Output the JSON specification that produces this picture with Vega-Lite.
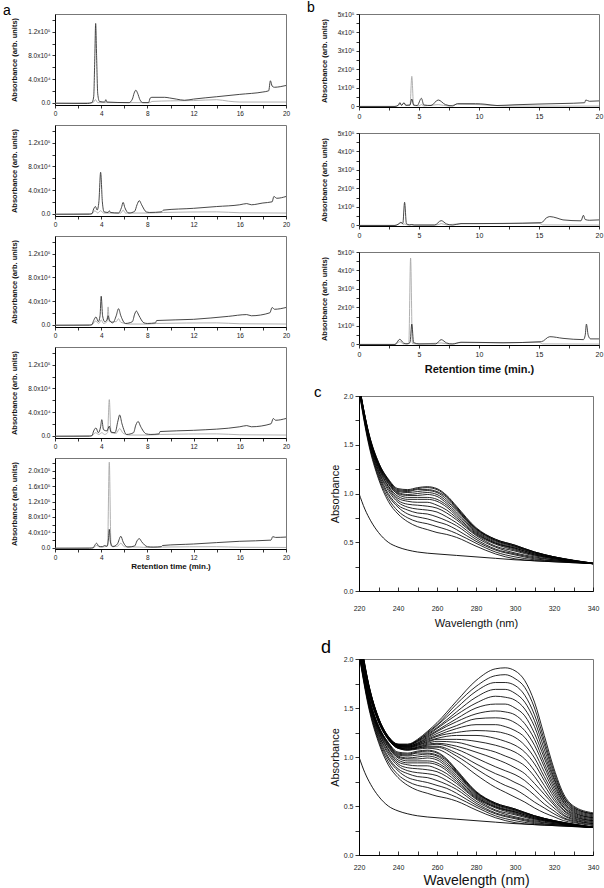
{
"$schema": "https://vega.github.io/schema/vega-lite/v6.json",
"padding": {"left": 2, "top": 0, "right": 0, "bottom": 0},
"spacing": 15,
"config": {
 "font": "Liberation Sans",
 "view": {"stroke": "#777", "strokeWidth": 1},
 "axis": {"grid": false, "domainColor": "#000", "tickColor": "#000", "labelColor": "#222", "titleColor": "#111", "labelFlush": false, "labelOverlap": false, "tickSize": 3, "labelPadding": 2, "titlePadding": 3, "tickWidth": 0.8},
 "title": {"fontWeight": "normal", "font": "Liberation Sans", "anchor": "start", "frame": "group", "color": "#000"},
 "line": {"strokeWidth": 0.9, "interpolate": "monotone"}
},
"datasets": {
 "a1": [
  {"s":"g","x":0,"y":-1},{"s":"g","x":3.3,"y":0},{"s":"g","x":3.5,"y":5},{"s":"g","x":3.7,"y":0},{"s":"g","x":8.2,"y":0},{"s":"g","x":8.4,"y":2},{"s":"g","x":10,"y":3},{"s":"g","x":12,"y":3.5},{"s":"g","x":14,"y":5},{"s":"g","x":15,"y":2.5},{"s":"g","x":16,"y":1},{"s":"g","x":20,"y":1},
  {"s":"d","x":0,"y":-1},{"s":"d","x":2.8,"y":-1.5},{"s":"d","x":3.2,"y":0},{"s":"d","x":3.35,"y":10},{"s":"d","x":3.45,"y":80},{"s":"d","x":3.52,"y":134},{"s":"d","x":3.6,"y":80},{"s":"d","x":3.7,"y":15},{"s":"d","x":3.85,"y":2},{"s":"d","x":4.3,"y":1},{"s":"d","x":4.4,"y":5},{"s":"d","x":4.5,"y":1},{"s":"d","x":6.4,"y":0},{"s":"d","x":6.7,"y":6},{"s":"d","x":6.85,"y":16},{"s":"d","x":7,"y":21},{"s":"d","x":7.15,"y":16},{"s":"d","x":7.35,"y":5},{"s":"d","x":7.6,"y":0},{"s":"d","x":8.1,"y":0},{"s":"d","x":8.25,"y":8},{"s":"d","x":8.4,"y":9},{"s":"d","x":9.5,"y":9},{"s":"d","x":9.9,"y":8},{"s":"d","x":10.5,"y":6},{"s":"d","x":11.2,"y":4},{"s":"d","x":12,"y":6},{"s":"d","x":14,"y":10},{"s":"d","x":16,"y":14},{"s":"d","x":18,"y":18},{"s":"d","x":18.5,"y":20},{"s":"d","x":18.65,"y":37},{"s":"d","x":18.8,"y":28},{"s":"d","x":19,"y":26},{"s":"d","x":19.5,"y":27},{"s":"d","x":20,"y":29}
 ],
 "a2": [
  {"s":"g","x":0,"y":-1},{"s":"g","x":3.2,"y":0},{"s":"g","x":3.45,"y":5},{"s":"g","x":3.7,"y":1},{"s":"g","x":3.95,"y":5},{"s":"g","x":4.2,"y":1},{"s":"g","x":5.7,"y":1},{"s":"g","x":5.9,"y":6},{"s":"g","x":6.1,"y":1},{"s":"g","x":8,"y":1},{"s":"g","x":9.4,"y":2},{"s":"g","x":14,"y":3},{"s":"g","x":16,"y":1.5},{"s":"g","x":20,"y":1},
  {"s":"d","x":0,"y":-1},{"s":"d","x":3,"y":-1},{"s":"d","x":3.2,"y":0},{"s":"d","x":3.35,"y":8},{"s":"d","x":3.5,"y":12},{"s":"d","x":3.65,"y":6},{"s":"d","x":3.8,"y":20},{"s":"d","x":3.95,"y":70},{"s":"d","x":4.1,"y":20},{"s":"d","x":4.25,"y":3},{"s":"d","x":4.6,"y":2},{"s":"d","x":4.7,"y":5},{"s":"d","x":4.8,"y":2},{"s":"d","x":5.5,"y":1},{"s":"d","x":5.75,"y":10},{"s":"d","x":5.9,"y":19},{"s":"d","x":6.05,"y":10},{"s":"d","x":6.4,"y":1},{"s":"d","x":6.9,"y":4},{"s":"d","x":7.1,"y":15},{"s":"d","x":7.3,"y":22},{"s":"d","x":7.5,"y":15},{"s":"d","x":7.9,"y":3},{"s":"d","x":8.2,"y":2},{"s":"d","x":9.2,"y":3},{"s":"d","x":9.4,"y":6},{"s":"d","x":12,"y":9},{"s":"d","x":14,"y":12},{"s":"d","x":16,"y":15},{"s":"d","x":16.6,"y":17},{"s":"d","x":17,"y":15},{"s":"d","x":18,"y":18},{"s":"d","x":18.8,"y":20},{"s":"d","x":18.95,"y":29},{"s":"d","x":19.2,"y":26},{"s":"d","x":20,"y":29}
 ],
 "a3": [
  {"s":"g","x":0,"y":-1},{"s":"g","x":3.2,"y":0},{"s":"g","x":3.5,"y":6},{"s":"g","x":3.8,"y":2},{"s":"g","x":4,"y":8},{"s":"g","x":4.2,"y":2},{"s":"g","x":4.5,"y":5},{"s":"g","x":4.6,"y":30},{"s":"g","x":4.7,"y":5},{"s":"g","x":5.3,"y":5},{"s":"g","x":5.5,"y":10},{"s":"g","x":5.7,"y":4},{"s":"g","x":6.5,"y":1},{"s":"g","x":8,"y":1},{"s":"g","x":8.8,"y":2},{"s":"g","x":14,"y":3},{"s":"g","x":16,"y":1.5},{"s":"g","x":20,"y":1},
  {"s":"d","x":0,"y":-1},{"s":"d","x":3,"y":-1},{"s":"d","x":3.2,"y":0},{"s":"d","x":3.35,"y":7},{"s":"d","x":3.55,"y":13},{"s":"d","x":3.75,"y":5},{"s":"d","x":3.9,"y":15},{"s":"d","x":4,"y":48},{"s":"d","x":4.12,"y":15},{"s":"d","x":4.3,"y":5},{"s":"d","x":4.5,"y":8},{"s":"d","x":4.6,"y":15},{"s":"d","x":4.7,"y":8},{"s":"d","x":5,"y":3},{"s":"d","x":5.3,"y":15},{"s":"d","x":5.5,"y":27},{"s":"d","x":5.7,"y":15},{"s":"d","x":6.1,"y":2},{"s":"d","x":6.7,"y":5},{"s":"d","x":6.9,"y":18},{"s":"d","x":7.05,"y":23},{"s":"d","x":7.25,"y":16},{"s":"d","x":7.7,"y":3},{"s":"d","x":8,"y":2},{"s":"d","x":8.7,"y":3},{"s":"d","x":8.8,"y":7},{"s":"d","x":12,"y":9},{"s":"d","x":15,"y":14},{"s":"d","x":16.6,"y":17},{"s":"d","x":17,"y":15},{"s":"d","x":18.6,"y":20},{"s":"d","x":18.8,"y":29},{"s":"d","x":19,"y":26},{"s":"d","x":20,"y":29}
 ],
 "a4": [
  {"s":"g","x":0,"y":-1},{"s":"g","x":3.2,"y":0},{"s":"g","x":3.5,"y":5},{"s":"g","x":3.8,"y":2},{"s":"g","x":4.05,"y":5},{"s":"g","x":4.3,"y":2},{"s":"g","x":4.55,"y":5},{"s":"g","x":4.7,"y":61},{"s":"g","x":4.85,"y":5},{"s":"g","x":5.3,"y":4},{"s":"g","x":5.6,"y":12},{"s":"g","x":5.9,"y":4},{"s":"g","x":6.5,"y":1},{"s":"g","x":8,"y":1},{"s":"g","x":9.1,"y":2},{"s":"g","x":14,"y":3},{"s":"g","x":16,"y":1.5},{"s":"g","x":20,"y":1},
  {"s":"d","x":0,"y":-1},{"s":"d","x":3,"y":-1},{"s":"d","x":3.2,"y":0},{"s":"d","x":3.35,"y":8},{"s":"d","x":3.55,"y":13},{"s":"d","x":3.75,"y":5},{"s":"d","x":3.95,"y":15},{"s":"d","x":4.05,"y":27},{"s":"d","x":4.2,"y":10},{"s":"d","x":4.5,"y":8},{"s":"d","x":4.7,"y":16},{"s":"d","x":4.85,"y":6},{"s":"d","x":5.2,"y":5},{"s":"d","x":5.45,"y":25},{"s":"d","x":5.6,"y":35},{"s":"d","x":5.8,"y":20},{"s":"d","x":6.2,"y":2},{"s":"d","x":6.8,"y":5},{"s":"d","x":7,"y":18},{"s":"d","x":7.2,"y":24},{"s":"d","x":7.4,"y":16},{"s":"d","x":7.9,"y":3},{"s":"d","x":8.3,"y":2},{"s":"d","x":9,"y":3},{"s":"d","x":9.1,"y":7},{"s":"d","x":12,"y":9},{"s":"d","x":16,"y":15},{"s":"d","x":16.6,"y":17},{"s":"d","x":17,"y":15},{"s":"d","x":18.7,"y":20},{"s":"d","x":18.9,"y":29},{"s":"d","x":19.1,"y":26},{"s":"d","x":20,"y":29}
 ],
 "a5": [
  {"s":"g","x":0,"y":-1},{"s":"g","x":3.3,"y":0},{"s":"g","x":3.6,"y":6},{"s":"g","x":3.9,"y":2},{"s":"g","x":4.3,"y":3},{"s":"g","x":4.55,"y":5},{"s":"g","x":4.7,"y":222},{"s":"g","x":4.85,"y":5},{"s":"g","x":5.4,"y":4},{"s":"g","x":5.7,"y":12},{"s":"g","x":6,"y":3},{"s":"g","x":7.3,"y":2},{"s":"g","x":8,"y":1},{"s":"g","x":9.3,"y":2},{"s":"g","x":14,"y":3},{"s":"g","x":16,"y":1.5},{"s":"g","x":20,"y":1},
  {"s":"d","x":0,"y":-1},{"s":"d","x":3,"y":-1},{"s":"d","x":3.3,"y":0},{"s":"d","x":3.45,"y":7},{"s":"d","x":3.6,"y":12},{"s":"d","x":3.8,"y":4},{"s":"d","x":4.1,"y":3},{"s":"d","x":4.3,"y":6},{"s":"d","x":4.5,"y":4},{"s":"d","x":4.62,"y":20},{"s":"d","x":4.7,"y":48},{"s":"d","x":4.8,"y":15},{"s":"d","x":5,"y":3},{"s":"d","x":5.4,"y":10},{"s":"d","x":5.7,"y":30},{"s":"d","x":5.9,"y":15},{"s":"d","x":6.3,"y":2},{"s":"d","x":6.9,"y":5},{"s":"d","x":7.1,"y":18},{"s":"d","x":7.3,"y":24},{"s":"d","x":7.5,"y":16},{"s":"d","x":8,"y":3},{"s":"d","x":8.5,"y":2},{"s":"d","x":9.2,"y":3},{"s":"d","x":9.3,"y":6},{"s":"d","x":12,"y":10},{"s":"d","x":16,"y":17},{"s":"d","x":18.7,"y":20},{"s":"d","x":18.85,"y":29},{"s":"d","x":19.1,"y":27},{"s":"d","x":20,"y":28}
 ],
 "b1": [
  {"s":"g","x":0,"y":0},{"s":"g","x":3,"y":0},{"s":"g","x":3.3,"y":8},{"s":"g","x":3.4,"y":20},{"s":"g","x":3.55,"y":6},{"s":"g","x":3.75,"y":20},{"s":"g","x":3.9,"y":6},{"s":"g","x":4.25,"y":5},{"s":"g","x":4.4,"y":163},{"s":"g","x":4.55,"y":5},{"s":"g","x":5,"y":3},{"s":"g","x":5.2,"y":10},{"s":"g","x":5.4,"y":3},{"s":"g","x":6.6,"y":10},{"s":"g","x":7.5,"y":2},{"s":"g","x":8.2,"y":12},{"s":"g","x":10,"y":10},{"s":"g","x":12,"y":3},{"s":"g","x":15,"y":2},{"s":"g","x":20,"y":2},
  {"s":"d","x":0,"y":0},{"s":"d","x":3,"y":0},{"s":"d","x":3.3,"y":8},{"s":"d","x":3.4,"y":20},{"s":"d","x":3.55,"y":6},{"s":"d","x":3.75,"y":20},{"s":"d","x":3.9,"y":6},{"s":"d","x":4.25,"y":8},{"s":"d","x":4.4,"y":40},{"s":"d","x":4.55,"y":8},{"s":"d","x":4.85,"y":5},{"s":"d","x":5.2,"y":44},{"s":"d","x":5.4,"y":8},{"s":"d","x":6,"y":5},{"s":"d","x":6.6,"y":35},{"s":"d","x":7.2,"y":10},{"s":"d","x":7.8,"y":3},{"s":"d","x":8.2,"y":15},{"s":"d","x":9.7,"y":15},{"s":"d","x":10.5,"y":12},{"s":"d","x":11.5,"y":5},{"s":"d","x":13,"y":9},{"s":"d","x":15,"y":13},{"s":"d","x":17,"y":16},{"s":"d","x":18.8,"y":20},{"s":"d","x":18.9,"y":35},{"s":"d","x":19.2,"y":28},{"s":"d","x":20,"y":30}
 ],
 "b2": [
  {"s":"g","x":0,"y":0},{"s":"g","x":3,"y":0},{"s":"g","x":3.3,"y":8},{"s":"g","x":3.5,"y":15},{"s":"g","x":3.7,"y":5},{"s":"g","x":3.8,"y":8},{"s":"g","x":4,"y":3},{"s":"g","x":6.5,"y":3},{"s":"g","x":6.85,"y":10},{"s":"g","x":7.3,"y":3},{"s":"g","x":8.5,"y":10},{"s":"g","x":12,"y":10},{"s":"g","x":15,"y":12},{"s":"g","x":15.3,"y":3},{"s":"g","x":20,"y":2},
  {"s":"d","x":0,"y":0},{"s":"d","x":3,"y":0},{"s":"d","x":3.3,"y":8},{"s":"d","x":3.5,"y":17},{"s":"d","x":3.65,"y":10},{"s":"d","x":3.8,"y":125},{"s":"d","x":3.95,"y":10},{"s":"d","x":4.2,"y":3},{"s":"d","x":4.4,"y":5},{"s":"d","x":4.6,"y":2},{"s":"d","x":6.3,"y":2},{"s":"d","x":6.85,"y":26},{"s":"d","x":7.3,"y":8},{"s":"d","x":7.8,"y":2},{"s":"d","x":8.5,"y":10},{"s":"d","x":10,"y":10},{"s":"d","x":12,"y":11},{"s":"d","x":15.2,"y":15},{"s":"d","x":15.6,"y":40},{"s":"d","x":15.9,"y":48},{"s":"d","x":16.5,"y":40},{"s":"d","x":17,"y":30},{"s":"d","x":18.5,"y":25},{"s":"d","x":18.7,"y":55},{"s":"d","x":18.85,"y":32},{"s":"d","x":19.2,"y":28},{"s":"d","x":20,"y":30}
 ],
 "b3": [
  {"s":"g","x":0,"y":0},{"s":"g","x":3,"y":0},{"s":"g","x":3.4,"y":15},{"s":"g","x":3.7,"y":3},{"s":"g","x":4.15,"y":5},{"s":"g","x":4.3,"y":467},{"s":"g","x":4.45,"y":5},{"s":"g","x":5,"y":2},{"s":"g","x":6.85,"y":8},{"s":"g","x":7.5,"y":2},{"s":"g","x":8.5,"y":10},{"s":"g","x":12,"y":9},{"s":"g","x":15,"y":12},{"s":"g","x":15.3,"y":3},{"s":"g","x":20,"y":2},
  {"s":"d","x":0,"y":0},{"s":"d","x":3,"y":0},{"s":"d","x":3.4,"y":28},{"s":"d","x":3.7,"y":8},{"s":"d","x":4,"y":3},{"s":"d","x":4.25,"y":10},{"s":"d","x":4.4,"y":110},{"s":"d","x":4.55,"y":10},{"s":"d","x":5,"y":3},{"s":"d","x":6.4,"y":3},{"s":"d","x":6.85,"y":26},{"s":"d","x":7.3,"y":8},{"s":"d","x":7.8,"y":2},{"s":"d","x":8.5,"y":12},{"s":"d","x":10,"y":11},{"s":"d","x":12,"y":9},{"s":"d","x":15.2,"y":15},{"s":"d","x":15.9,"y":42},{"s":"d","x":17,"y":33},{"s":"d","x":18.7,"y":26},{"s":"d","x":18.85,"y":50},{"s":"d","x":18.95,"y":110},{"s":"d","x":19.1,"y":50},{"s":"d","x":19.3,"y":30},{"s":"d","x":20,"y":30}
 ],
 "base": [
  {"w":220,"a":1.0},{"w":223,"a":0.84},{"w":226,"a":0.72},{"w":230,"a":0.6},{"w":235,"a":0.5},{"w":240,"a":0.45},{"w":245,"a":0.42},{"w":250,"a":0.4},{"w":260,"a":0.38},{"w":270,"a":0.365},{"w":280,"a":0.35},{"w":290,"a":0.335},{"w":300,"a":0.32},{"w":310,"a":0.31},{"w":320,"a":0.3},{"w":330,"a":0.29},{"w":340,"a":0.285}
 ],
 "f1": [
  {"w":220,"c0":2.05,"c1":2.06,"c2":2.07,"c3":2.08,"c4":2.08,"c5":2.09,"c6":2.09,"c7":2.10,"c8":2.10,"c9":2.11,"c10":2.11,"c11":2.11,"c12":2.12,"c13":2.12,"c14":2.12},
  {"w":225,"c0":1.50,"c1":1.52,"c2":1.53,"c3":1.54,"c4":1.56,"c5":1.57,"c6":1.58,"c7":1.58,"c8":1.59,"c9":1.60,"c10":1.60,"c11":1.61,"c12":1.61,"c13":1.62,"c14":1.62},
  {"w":230,"c0":1.15,"c1":1.17,"c2":1.19,"c3":1.21,"c4":1.23,"c5":1.24,"c6":1.26,"c7":1.27,"c8":1.28,"c9":1.29,"c10":1.30,"c11":1.30,"c12":1.31,"c13":1.32,"c14":1.32},
  {"w":235,"c0":0.92,"c1":0.95,"c2":0.98,"c3":1.00,"c4":1.03,"c5":1.05,"c6":1.07,"c7":1.08,"c8":1.10,"c9":1.11,"c10":1.12,"c11":1.13,"c12":1.14,"c13":1.14,"c14":1.15},
  {"w":240,"c0":0.79,"c1":0.82,"c2":0.86,"c3":0.88,"c4":0.91,"c5":0.93,"c6":0.95,"c7":0.97,"c8":0.99,"c9":1.00,"c10":1.01,"c11":1.02,"c12":1.03,"c13":1.04,"c14":1.05},
  {"w":245,"c0":0.71,"c1":0.75,"c2":0.79,"c3":0.83,"c4":0.86,"c5":0.89,"c6":0.92,"c7":0.94,"c8":0.96,"c9":0.98,"c10":0.99,"c11":1.01,"c12":1.02,"c13":1.03,"c14":1.04},
  {"w":250,"c0":0.66,"c1":0.71,"c2":0.76,"c3":0.80,"c4":0.84,"c5":0.88,"c6":0.91,"c7":0.94,"c8":0.96,"c9":0.98,"c10":1.00,"c11":1.02,"c12":1.04,"c13":1.05,"c14":1.06},
  {"w":255,"c0":0.63,"c1":0.69,"c2":0.74,"c3":0.79,"c4":0.83,"c5":0.87,"c6":0.91,"c7":0.94,"c8":0.96,"c9":0.99,"c10":1.01,"c11":1.03,"c12":1.04,"c13":1.06,"c14":1.07},
  {"w":260,"c0":0.60,"c1":0.66,"c2":0.71,"c3":0.76,"c4":0.81,"c5":0.85,"c6":0.88,"c7":0.92,"c8":0.94,"c9":0.97,"c10":0.99,"c11":1.01,"c12":1.02,"c13":1.04,"c14":1.05},
  {"w":265,"c0":0.58,"c1":0.63,"c2":0.68,"c3":0.72,"c4":0.76,"c5":0.80,"c6":0.83,"c7":0.86,"c8":0.88,"c9":0.90,"c10":0.92,"c11":0.94,"c12":0.96,"c13":0.97,"c14":0.98},
  {"w":270,"c0":0.55,"c1":0.59,"c2":0.63,"c3":0.67,"c4":0.70,"c5":0.73,"c6":0.75,"c7":0.77,"c8":0.79,"c9":0.81,"c10":0.83,"c11":0.84,"c12":0.85,"c13":0.86,"c14":0.87},
  {"w":280,"c0":0.46,"c1":0.49,"c2":0.51,"c3":0.53,"c4":0.55,"c5":0.57,"c6":0.58,"c7":0.59,"c8":0.60,"c9":0.61,"c10":0.62,"c11":0.63,"c12":0.64,"c13":0.64,"c14":0.65},
  {"w":290,"c0":0.38,"c1":0.40,"c2":0.42,"c3":0.43,"c4":0.45,"c5":0.46,"c6":0.48,"c7":0.49,"c8":0.49,"c9":0.50,"c10":0.51,"c11":0.52,"c12":0.52,"c13":0.53,"c14":0.53},
  {"w":300,"c0":0.33,"c1":0.35,"c2":0.37,"c3":0.38,"c4":0.39,"c5":0.41,"c6":0.42,"c7":0.43,"c8":0.44,"c9":0.44,"c10":0.45,"c11":0.46,"c12":0.46,"c13":0.47,"c14":0.47},
  {"w":310,"c0":0.31,"c1":0.32,"c2":0.33,"c3":0.34,"c4":0.35,"c5":0.36,"c6":0.37,"c7":0.37,"c8":0.38,"c9":0.38,"c10":0.39,"c11":0.39,"c12":0.40,"c13":0.40,"c14":0.40},
  {"w":320,"c0":0.30,"c1":0.31,"c2":0.31,"c3":0.32,"c4":0.32,"c5":0.33,"c6":0.33,"c7":0.34,"c8":0.34,"c9":0.34,"c10":0.34,"c11":0.35,"c12":0.35,"c13":0.35,"c14":0.35},
  {"w":340,"c0":0.28,"c1":0.28,"c2":0.28,"c3":0.28,"c4":0.28,"c5":0.28,"c6":0.28,"c7":0.28,"c8":0.28,"c9":0.28,"c10":0.285,"c11":0.285,"c12":0.285,"c13":0.285,"c14":0.285}
 ],
 "f2": [
  {"w":220,"u0":2.15,"u1":2.16,"u2":2.17,"u3":2.18,"u4":2.19,"u5":2.19,"u6":2.20,"u7":2.21,"u8":2.22,"u9":2.23,"u10":2.24,"u11":2.25,"u12":2.26,"u13":2.26,"u14":2.27,"u15":2.28,"u16":2.29,"u17":2.30},
  {"w":225,"u0":1.66,"u1":1.66,"u2":1.67,"u3":1.67,"u4":1.68,"u5":1.68,"u6":1.69,"u7":1.69,"u8":1.70,"u9":1.70,"u10":1.71,"u11":1.71,"u12":1.72,"u13":1.72,"u14":1.73,"u15":1.73,"u16":1.74,"u17":1.74},
  {"w":230,"u0":1.36,"u1":1.36,"u2":1.36,"u3":1.37,"u4":1.37,"u5":1.37,"u6":1.37,"u7":1.38,"u8":1.38,"u9":1.38,"u10":1.38,"u11":1.39,"u12":1.39,"u13":1.39,"u14":1.39,"u15":1.40,"u16":1.40,"u17":1.40},
  {"w":235,"u0":1.18,"u1":1.18,"u2":1.18,"u3":1.19,"u4":1.19,"u5":1.19,"u6":1.19,"u7":1.19,"u8":1.19,"u9":1.20,"u10":1.20,"u11":1.20,"u12":1.20,"u13":1.20,"u14":1.20,"u15":1.21,"u16":1.21,"u17":1.21},
  {"w":240,"u0":1.09,"u1":1.09,"u2":1.09,"u3":1.10,"u4":1.10,"u5":1.10,"u6":1.10,"u7":1.11,"u8":1.11,"u9":1.11,"u10":1.11,"u11":1.12,"u12":1.12,"u13":1.12,"u14":1.12,"u15":1.13,"u16":1.13,"u17":1.13},
  {"w":245,"u0":1.07,"u1":1.07,"u2":1.08,"u3":1.08,"u4":1.08,"u5":1.09,"u6":1.09,"u7":1.10,"u8":1.10,"u9":1.10,"u10":1.11,"u11":1.11,"u12":1.11,"u13":1.12,"u14":1.12,"u15":1.12,"u16":1.13,"u17":1.13},
  {"w":250,"u0":1.08,"u1":1.09,"u2":1.09,"u3":1.10,"u4":1.10,"u5":1.11,"u6":1.12,"u7":1.12,"u8":1.13,"u9":1.13,"u10":1.14,"u11":1.14,"u12":1.15,"u13":1.16,"u14":1.16,"u15":1.17,"u16":1.17,"u17":1.18},
  {"w":255,"u0":1.09,"u1":1.10,"u2":1.11,"u3":1.12,"u4":1.13,"u5":1.14,"u6":1.15,"u7":1.16,"u8":1.17,"u9":1.18,"u10":1.19,"u11":1.20,"u12":1.21,"u13":1.22,"u14":1.23,"u15":1.24,"u16":1.25,"u17":1.26},
  {"w":260,"u0":1.08,"u1":1.10,"u2":1.11,"u3":1.13,"u4":1.14,"u5":1.16,"u6":1.18,"u7":1.19,"u8":1.21,"u9":1.22,"u10":1.24,"u11":1.26,"u12":1.27,"u13":1.29,"u14":1.30,"u15":1.32,"u16":1.33,"u17":1.35},
  {"w":270,"u0":0.97,"u1":1.01,"u2":1.04,"u3":1.08,"u4":1.11,"u5":1.15,"u6":1.18,"u7":1.22,"u8":1.25,"u9":1.29,"u10":1.32,"u11":1.36,"u12":1.39,"u13":1.43,"u14":1.46,"u15":1.50,"u16":1.54,"u17":1.57},
  {"w":280,"u0":0.82,"u1":0.88,"u2":0.93,"u3":0.99,"u4":1.05,"u5":1.10,"u6":1.16,"u7":1.22,"u8":1.27,"u9":1.33,"u10":1.39,"u11":1.44,"u12":1.50,"u13":1.55,"u14":1.61,"u15":1.67,"u16":1.72,"u17":1.78},
  {"w":290,"u0":0.69,"u1":0.76,"u2":0.83,"u3":0.90,"u4":0.98,"u5":1.05,"u6":1.12,"u7":1.19,"u8":1.26,"u9":1.33,"u10":1.40,"u11":1.47,"u12":1.54,"u13":1.62,"u14":1.69,"u15":1.76,"u16":1.83,"u17":1.90},
  {"w":295,"u0":0.64,"u1":0.71,"u2":0.79,"u3":0.86,"u4":0.94,"u5":1.01,"u6":1.09,"u7":1.16,"u8":1.24,"u9":1.31,"u10":1.39,"u11":1.46,"u12":1.54,"u13":1.61,"u14":1.69,"u15":1.76,"u16":1.84,"u17":1.91},
  {"w":300,"u0":0.59,"u1":0.67,"u2":0.74,"u3":0.82,"u4":0.89,"u5":0.97,"u6":1.05,"u7":1.12,"u8":1.20,"u9":1.27,"u10":1.35,"u11":1.43,"u12":1.50,"u13":1.58,"u14":1.65,"u15":1.73,"u16":1.80,"u17":1.88},
  {"w":305,"u0":0.54,"u1":0.61,"u2":0.69,"u3":0.76,"u4":0.83,"u5":0.91,"u6":0.98,"u7":1.05,"u8":1.12,"u9":1.20,"u10":1.27,"u11":1.34,"u12":1.42,"u13":1.49,"u14":1.56,"u15":1.63,"u16":1.71,"u17":1.78},
  {"w":310,"u0":0.48,"u1":0.54,"u2":0.61,"u3":0.67,"u4":0.73,"u5":0.80,"u6":0.86,"u7":0.93,"u8":0.99,"u9":1.05,"u10":1.12,"u11":1.18,"u12":1.24,"u13":1.31,"u14":1.37,"u15":1.43,"u16":1.50,"u17":1.56},
  {"w":315,"u0":0.43,"u1":0.48,"u2":0.52,"u3":0.57,"u4":0.62,"u5":0.66,"u6":0.71,"u7":0.76,"u8":0.80,"u9":0.85,"u10":0.90,"u11":0.94,"u12":0.99,"u13":1.03,"u14":1.08,"u15":1.13,"u16":1.17,"u17":1.22},
  {"w":320,"u0":0.39,"u1":0.42,"u2":0.45,"u3":0.48,"u4":0.51,"u5":0.53,"u6":0.56,"u7":0.59,"u8":0.62,"u9":0.65,"u10":0.68,"u11":0.71,"u12":0.74,"u13":0.77,"u14":0.79,"u15":0.82,"u16":0.85,"u17":0.88},
  {"w":325,"u0":0.35,"u1":0.37,"u2":0.38,"u3":0.40,"u4":0.41,"u5":0.43,"u6":0.45,"u7":0.46,"u8":0.48,"u9":0.49,"u10":0.51,"u11":0.53,"u12":0.54,"u13":0.56,"u14":0.57,"u15":0.59,"u16":0.60,"u17":0.62},
  {"w":330,"u0":0.33,"u1":0.34,"u2":0.35,"u3":0.36,"u4":0.37,"u5":0.38,"u6":0.39,"u7":0.40,"u8":0.41,"u9":0.42,"u10":0.43,"u11":0.44,"u12":0.45,"u13":0.46,"u14":0.47,"u15":0.48,"u16":0.49,"u17":0.50},
  {"w":340,"u0":0.30,"u1":0.31,"u2":0.32,"u3":0.32,"u4":0.33,"u5":0.34,"u6":0.35,"u7":0.35,"u8":0.36,"u9":0.37,"u10":0.38,"u11":0.38,"u12":0.39,"u13":0.40,"u14":0.41,"u15":0.42,"u16":0.42,"u17":0.43}
 ]
},
"hconcat": [
 {"spacing": 7, "vconcat": [
  {"width": 231, "height": 91, "title": {"text": "a", "fontSize": 14, "dx": -52, "offset": -4}, "data": {"name": "a1"},
   "encoding": {"x": {"field": "x", "type": "quantitative", "scale": {"domain": [0, 20], "nice": false}, "axis": {"values": [0,2,4,6,8,10,12,14,16,18,20], "labelExpr": "datum.value%4==0?datum.label:''", "title": null, "labelFontSize": 6.5}},
    "y": {"field": "y", "type": "quantitative", "scale": {"domain": [-4, 150], "nice": false, "zero": false}, "axis": {"values": [0,20,40,60,80,100,120,140], "labelExpr": "datum.value==0?'0.0':datum.value==40?'4.0x10⁴':datum.value==80?'8.0x10⁴':datum.value==120?'1.2x10⁵':''", "title": "Absorbance (arb. units)", "titleFontSize": 7.5, "titleFontWeight": "bold", "titlePadding": 9, "labelFontSize": 6.5}}},
   "layer": [
    {"transform": [{"filter": "datum.s=='g'"}], "mark": {"type": "line", "color": "#a8a8a8", "clip": true}},
    {"transform": [{"filter": "datum.s=='d'"}], "mark": {"type": "line", "color": "#333", "clip": true}},
    {"data": {"values": [{}]}, "mark": {"type": "text", "align": "right", "baseline": "top", "fontSize": 7.3, "color": "#222"}, "encoding": {"x": {"datum": 19.7}, "y": {"datum": 146}, "text": {"value": "Prephenate"}}}
   ]},
  {"width": 231, "height": 91, "data": {"name": "a2"},
   "encoding": {"x": {"field": "x", "type": "quantitative", "scale": {"domain": [0, 20], "nice": false}, "axis": {"values": [0,2,4,6,8,10,12,14,16,18,20], "labelExpr": "datum.value%4==0?datum.label:''", "title": null, "labelFontSize": 6.5}},
    "y": {"field": "y", "type": "quantitative", "scale": {"domain": [-4, 150], "nice": false, "zero": false}, "axis": {"values": [0,20,40,60,80,100,120,140], "labelExpr": "datum.value==0?'0.0':datum.value==40?'4.0x10⁴':datum.value==80?'8.0x10⁴':datum.value==120?'1.2x10⁵':''", "title": "Absorbance (arb. units)", "titleFontSize": 7.5, "titleFontWeight": "bold", "titlePadding": 9, "labelFontSize": 6.5}}},
   "layer": [
    {"transform": [{"filter": "datum.s=='g'"}], "mark": {"type": "line", "color": "#a8a8a8", "clip": true}},
    {"transform": [{"filter": "datum.s=='d'"}], "mark": {"type": "line", "color": "#333", "clip": true}},
    {"data": {"values": [{}]}, "mark": {"type": "text", "align": "right", "baseline": "top", "fontSize": 7.3, "color": "#222"}, "encoding": {"x": {"datum": 19.7}, "y": {"datum": 146}, "text": {"value": "BacA+Prephenate - 1 min."}}}
   ]},
  {"width": 231, "height": 91, "data": {"name": "a3"},
   "encoding": {"x": {"field": "x", "type": "quantitative", "scale": {"domain": [0, 20], "nice": false}, "axis": {"values": [0,2,4,6,8,10,12,14,16,18,20], "labelExpr": "datum.value%4==0?datum.label:''", "title": null, "labelFontSize": 6.5}},
    "y": {"field": "y", "type": "quantitative", "scale": {"domain": [-4, 150], "nice": false, "zero": false}, "axis": {"values": [0,20,40,60,80,100,120,140], "labelExpr": "datum.value==0?'0.0':datum.value==40?'4.0x10⁴':datum.value==80?'8.0x10⁴':datum.value==120?'1.2x10⁵':''", "title": "Absorbance (arb. units)", "titleFontSize": 7.5, "titleFontWeight": "bold", "titlePadding": 9, "labelFontSize": 6.5}}},
   "layer": [
    {"transform": [{"filter": "datum.s=='g'"}], "mark": {"type": "line", "color": "#a8a8a8", "clip": true}},
    {"transform": [{"filter": "datum.s=='d'"}], "mark": {"type": "line", "color": "#333", "clip": true}},
    {"data": {"values": [{}]}, "mark": {"type": "text", "align": "right", "baseline": "top", "fontSize": 7.3, "color": "#222"}, "encoding": {"x": {"datum": 19.7}, "y": {"datum": 146}, "text": {"value": "BacA+Prephenate - 5 min."}}}
   ]},
  {"width": 231, "height": 91, "data": {"name": "a4"},
   "encoding": {"x": {"field": "x", "type": "quantitative", "scale": {"domain": [0, 20], "nice": false}, "axis": {"values": [0,2,4,6,8,10,12,14,16,18,20], "labelExpr": "datum.value%4==0?datum.label:''", "title": null, "labelFontSize": 6.5}},
    "y": {"field": "y", "type": "quantitative", "scale": {"domain": [-4, 150], "nice": false, "zero": false}, "axis": {"values": [0,20,40,60,80,100,120,140], "labelExpr": "datum.value==0?'0.0':datum.value==40?'4.0x10⁴':datum.value==80?'8.0x10⁴':datum.value==120?'1.2x10⁵':''", "title": "Absorbance (arb. units)", "titleFontSize": 7.5, "titleFontWeight": "bold", "titlePadding": 9, "labelFontSize": 6.5}}},
   "layer": [
    {"transform": [{"filter": "datum.s=='g'"}], "mark": {"type": "line", "color": "#a8a8a8", "clip": true}},
    {"transform": [{"filter": "datum.s=='d'"}], "mark": {"type": "line", "color": "#333", "clip": true}},
    {"data": {"values": [{}]}, "mark": {"type": "text", "align": "right", "baseline": "top", "fontSize": 7.3, "color": "#222"}, "encoding": {"x": {"datum": 19.7}, "y": {"datum": 146}, "text": {"value": "BacA+Prephenate - 10 min."}}}
   ]},
  {"width": 231, "height": 91, "data": {"name": "a5"},
   "encoding": {"x": {"field": "x", "type": "quantitative", "scale": {"domain": [0, 20], "nice": false}, "axis": {"values": [0,2,4,6,8,10,12,14,16,18,20], "labelExpr": "datum.value%4==0?datum.label:''", "title": "Retention time (min.)", "titleFontSize": 8, "titleFontWeight": "bold", "titlePadding": 2, "labelFontSize": 6.5}},
    "y": {"field": "y", "type": "quantitative", "scale": {"domain": [-3, 233], "nice": false, "zero": false}, "axis": {"values": [0,20,40,60,80,100,120,140,160,180,200,220], "labelExpr": "datum.value==0?'0.0':datum.value==40?'4.0x10⁴':datum.value==80?'8.0x10⁴':datum.value==120?'1.2x10⁵':datum.value==160?'1.6x10⁵':datum.value==200?'2.0x10⁵':''", "title": "Absorbance (arb. units)", "titleFontSize": 7.5, "titleFontWeight": "bold", "titlePadding": 9, "labelFontSize": 6.5}}},
   "layer": [
    {"transform": [{"filter": "datum.s=='g'"}], "mark": {"type": "line", "color": "#a8a8a8", "clip": true}},
    {"transform": [{"filter": "datum.s=='d'"}], "mark": {"type": "line", "color": "#333", "clip": true}},
    {"data": {"values": [{}]}, "mark": {"type": "text", "align": "right", "baseline": "top", "fontSize": 7.3, "color": "#222"}, "encoding": {"x": {"datum": 19.7}, "y": {"datum": 227}, "text": {"value": "BacA+Prephenate - 60 min."}}}
   ]}
 ]},
 {"spacing": 9, "vconcat": [
  {"width": 240, "height": 93, "title": {"text": "b", "fontSize": 14, "dx": -52, "offset": -4}, "data": {"name": "b1"},
   "encoding": {"x": {"field": "x", "type": "quantitative", "scale": {"domain": [0, 20], "nice": false}, "axis": {"values": [0,2.5,5,7.5,10,12.5,15,17.5,20], "labelExpr": "datum.value%5==0?datum.label:''", "title": null, "labelFontSize": 7}},
    "y": {"field": "y", "type": "quantitative", "scale": {"domain": [-3, 500], "nice": false, "zero": false}, "axis": {"values": [0,50,100,150,200,250,300,350,400,450,500], "labelExpr": "datum.value==0?'0':datum.value%100==0?(datum.value/100)+'x10⁵':''", "title": "Absorbance (arb. units)", "titleFontSize": 7.5, "titleFontWeight": "bold", "titlePadding": 9, "labelFontSize": 6.5}}},
   "layer": [
    {"transform": [{"filter": "datum.s=='g'"}], "mark": {"type": "line", "color": "#a8a8a8", "clip": true}},
    {"transform": [{"filter": "datum.s=='d'"}], "mark": {"type": "line", "color": "#333", "clip": true}},
    {"data": {"values": [{}]}, "mark": {"type": "text", "align": "right", "baseline": "top", "fontSize": 9.5, "color": "#111"}, "encoding": {"x": {"datum": 19.8}, "y": {"datum": 490}, "text": {"value": "BacA + Prephenate - 20 min."}}}
   ]},
  {"width": 240, "height": 93, "data": {"name": "b2"},
   "encoding": {"x": {"field": "x", "type": "quantitative", "scale": {"domain": [0, 20], "nice": false}, "axis": {"values": [0,2.5,5,7.5,10,12.5,15,17.5,20], "labelExpr": "datum.value%5==0?datum.label:''", "title": null, "labelFontSize": 7}},
    "y": {"field": "y", "type": "quantitative", "scale": {"domain": [-3, 500], "nice": false, "zero": false}, "axis": {"values": [0,50,100,150,200,250,300,350,400,450,500], "labelExpr": "datum.value==0?'0':datum.value%100==0?(datum.value/100)+'x10⁵':''", "title": "Absorbance (arb. units)", "titleFontSize": 7.5, "titleFontWeight": "bold", "titlePadding": 9, "labelFontSize": 6.5}}},
   "layer": [
    {"transform": [{"filter": "datum.s=='g'"}], "mark": {"type": "line", "color": "#a8a8a8", "clip": true}},
    {"transform": [{"filter": "datum.s=='d'"}], "mark": {"type": "line", "color": "#333", "clip": true}},
    {"data": {"values": [{}]}, "mark": {"type": "text", "align": "right", "baseline": "top", "fontSize": 9.5, "color": "#111"}, "encoding": {"x": {"datum": 19.8}, "y": {"datum": 490}, "text": {"value": "BacB + Prephenate - 20 min."}}}
   ]},
  {"width": 240, "height": 93, "data": {"name": "b3"},
   "encoding": {"x": {"field": "x", "type": "quantitative", "scale": {"domain": [0, 20], "nice": false}, "axis": {"values": [0,2.5,5,7.5,10,12.5,15,17.5,20], "labelExpr": "datum.value%5==0?datum.label:''", "title": "Retention time (min.)", "titleFontSize": 11, "titleFontWeight": "bold", "titlePadding": 6, "labelFontSize": 7}},
    "y": {"field": "y", "type": "quantitative", "scale": {"domain": [-3, 500], "nice": false, "zero": false}, "axis": {"values": [0,50,100,150,200,250,300,350,400,450,500], "labelExpr": "datum.value==0?'0':datum.value%100==0?(datum.value/100)+'x10⁵':''", "title": "Absorbance (arb. units)", "titleFontSize": 7.5, "titleFontWeight": "bold", "titlePadding": 9, "labelFontSize": 6.5}}},
   "layer": [
    {"transform": [{"filter": "datum.s=='g'"}], "mark": {"type": "line", "color": "#a8a8a8", "clip": true}},
    {"transform": [{"filter": "datum.s=='d'"}], "mark": {"type": "line", "color": "#333", "clip": true}},
    {"data": {"values": [{}]}, "mark": {"type": "text", "align": "right", "baseline": "top", "fontSize": 9.5, "color": "#111"}, "encoding": {"x": {"datum": 19.8}, "y": {"datum": 490}, "text": {"value": "BacA + BacB + Prephenate - 20 min."}}}
   ]},
  {"width": 234, "height": 195, "title": {"text": "c", "fontSize": 15, "dx": -45, "offset": -8},
   "encoding": {"x": {"type": "quantitative", "scale": {"domain": [220, 340], "nice": false}, "axis": {"values": [220,230,240,250,260,270,280,290,300,310,320,330,340], "labelExpr": "datum.value%20==0?datum.label:''", "title": "Wavelength (nm)", "titleFontSize": 11, "titleFontWeight": "normal", "titlePadding": 6, "tickSize": -4, "labelPadding": 17, "labelFontSize": 7}},
    "y": {"type": "quantitative", "scale": {"domain": [0, 2], "nice": false}, "axis": {"values": [0,0.25,0.5,0.75,1,1.25,1.5,1.75,2], "format": ".1f", "labelExpr": "(datum.value*4)%2==0?datum.label:''", "title": "Absorbance", "titleFontSize": 11, "titleFontWeight": "normal", "labelFontSize": 7, "tickSize": 4}}},
   "layer": [
    {"data": {"name": "base"}, "mark": {"type": "line", "color": "#000", "clip": true}, "encoding": {"x": {"field": "w", "type": "quantitative"}, "y": {"field": "a", "type": "quantitative"}}},
    {"data": {"name": "f1"}, "transform": [{"fold": ["c0","c1","c2","c3","c4","c5","c6","c7","c8","c9","c10","c11","c12","c13","c14"], "as": ["k", "v"]}], "mark": {"type": "line", "color": "#000", "strokeWidth": 0.85, "clip": true}, "encoding": {"x": {"field": "w", "type": "quantitative"}, "y": {"field": "v", "type": "quantitative"}, "detail": {"field": "k"}}}
   ]},
  {"width": 234, "height": 196, "title": {"text": "d", "fontSize": 18, "dx": -38, "offset": -2},
   "encoding": {"x": {"type": "quantitative", "scale": {"domain": [220, 340], "nice": false}, "axis": {"values": [220,230,240,250,260,270,280,290,300,310,320,330,340], "labelExpr": "datum.value%20==0?datum.label:''", "title": "Wavelength (nm)", "titleFontSize": 14, "titleFontWeight": "normal", "titlePadding": 3, "tickSize": -4, "labelPadding": 12, "labelFontSize": 7}},
    "y": {"type": "quantitative", "scale": {"domain": [0, 2], "nice": false}, "axis": {"values": [0,0.25,0.5,0.75,1,1.25,1.5,1.75,2], "format": ".1f", "labelExpr": "(datum.value*4)%2==0?datum.label:''", "title": "Absorbance", "titleFontSize": 11, "titleFontWeight": "normal", "labelFontSize": 7, "tickSize": 4}}},
   "layer": [
    {"data": {"name": "base"}, "mark": {"type": "line", "color": "#000", "clip": true}, "encoding": {"x": {"field": "w", "type": "quantitative"}, "y": {"field": "a", "type": "quantitative"}}},
    {"data": {"name": "f1"}, "transform": [{"fold": ["c0","c1","c2","c3","c4","c5","c6","c7","c8","c9","c10","c11","c12","c13","c14"], "as": ["k", "v"]}], "mark": {"type": "line", "color": "#000", "strokeWidth": 0.85, "clip": true}, "encoding": {"x": {"field": "w", "type": "quantitative"}, "y": {"field": "v", "type": "quantitative"}, "detail": {"field": "k"}}},
    {"data": {"name": "f2"}, "transform": [{"fold": ["u0","u1","u2","u3","u4","u5","u6","u7","u8","u9","u10","u11","u12","u13","u14","u15","u16","u17"], "as": ["k", "v"]}], "mark": {"type": "line", "color": "#000", "strokeWidth": 0.85, "clip": true}, "encoding": {"x": {"field": "w", "type": "quantitative"}, "y": {"field": "v", "type": "quantitative"}, "detail": {"field": "k"}}}
   ]}
 ]}
]
}
